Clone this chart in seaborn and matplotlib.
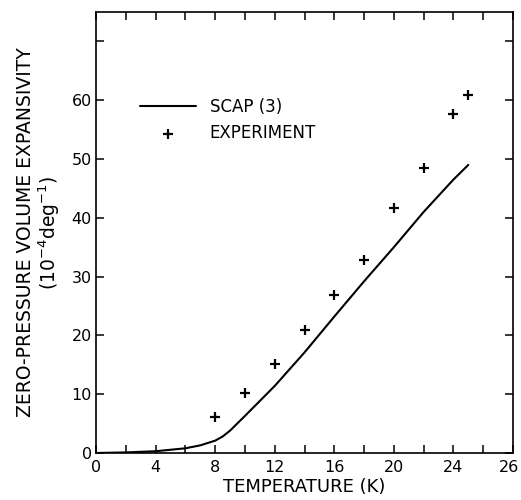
import matplotlib
matplotlib.use("Agg")
import matplotlib.pyplot as plt
import matplotlib.transforms as mtransforms
import seaborn as sns
import pandas as pd

# SCAP(3) calculation: temperature (K) vs expansivity (1e-4 / deg)
scap_temp = [0, 2, 4, 6, 7, 8, 8.5, 9, 10, 12, 14, 16, 18, 20, 22, 24, 25]
scap_alpha = [0, 0.1, 0.3, 0.8, 1.3, 2.1, 2.8, 3.8, 6.3, 11.4, 17.1, 23.2, 29.2, 35.0, 41.0, 46.5, 49.0]

# Measured values
exp_temp = [8, 10, 12, 14, 16, 18, 20, 22, 24, 25]
exp_alpha = [6.2, 10.2, 15.2, 20.9, 26.8, 32.8, 41.7, 48.4, 57.7, 60.8]

# Axis ticks and labels
x_ticks = [0, 2, 4, 6, 8, 10, 12, 14, 16, 18, 20, 22, 24, 26, 28]
x_tick_labels = ["0", "", "4", "", "8", "", "12", "", "16", "", "20", "", "24", "", "26"]
y_ticks = [0, 10, 20, 30, 40, 50, 60, 70]
y_tick_labels = ["0", "10", "20", "30", "40", "50", "60", ""]

sns.set_theme(style="ticks")
plt.rcParams["font.family"] = ["DejaVu Sans"]

fig = plt.figure(figsize=(5.21, 5.00), dpi=100)
ax = fig.add_axes([96 / 521, 1 - 453 / 500, 417 / 521, 441 / 500])

scap = pd.DataFrame({"T": scap_temp, "alpha": scap_alpha})
meas = pd.DataFrame({"T": exp_temp, "alpha": exp_alpha})

sns.lineplot(data=scap, x="T", y="alpha", color="black", linewidth=1.5,
             label="SCAP (3)", ax=ax, sort=False)
sns.scatterplot(data=meas, x="T", y="alpha", marker="+", color="black",
                s=55, linewidth=1.6, label="EXPERIMENT", ax=ax)

ax.set_xlim(0, 28)
ax.set_ylim(0, 75)
ax.set_xticks(x_ticks)
ax.set_xticklabels(x_tick_labels)
ax.set_yticks(y_ticks)
ax.set_yticklabels(y_tick_labels)

ax.tick_params(axis="both", direction="in", length=6, width=1.1,
               labelsize=11.5, colors="black", top=True, right=True, pad=3)
ax.tick_params(axis="x", pad=5)
for side in ["left", "right", "top", "bottom"]:
    ax.spines[side].set_visible(True)
    ax.spines[side].set_linewidth(1.2)
    ax.spines[side].set_color("black")

# nudge the last x tick label so it stays inside the figure
last = ax.get_xticklabels()[-1]
last.set_transform(last.get_transform() +
                   mtransforms.ScaledTranslation(-4 / 100, 0, fig.dpi_scale_trans))

ax.set_xlabel("TEMPERATURE (K)", fontsize=13, color="black", labelpad=2)
ax.set_ylabel("ZERO-PRESSURE VOLUME EXPANSIVITY\n(10$^{-4}$deg$^{-1}$)",
              fontsize=13.5, color="black", labelpad=7, linespacing=1.05)

leg = ax.legend(loc="upper left", bbox_to_anchor=(0.105, 0.805), frameon=False,
                fontsize=12, handlelength=3.4, handletextpad=0.8,
                labelspacing=0.5, borderpad=0, borderaxespad=0)
for t in leg.get_texts():
    t.set_color("black")

fig.savefig("out.png", dpi=100, facecolor="white")
